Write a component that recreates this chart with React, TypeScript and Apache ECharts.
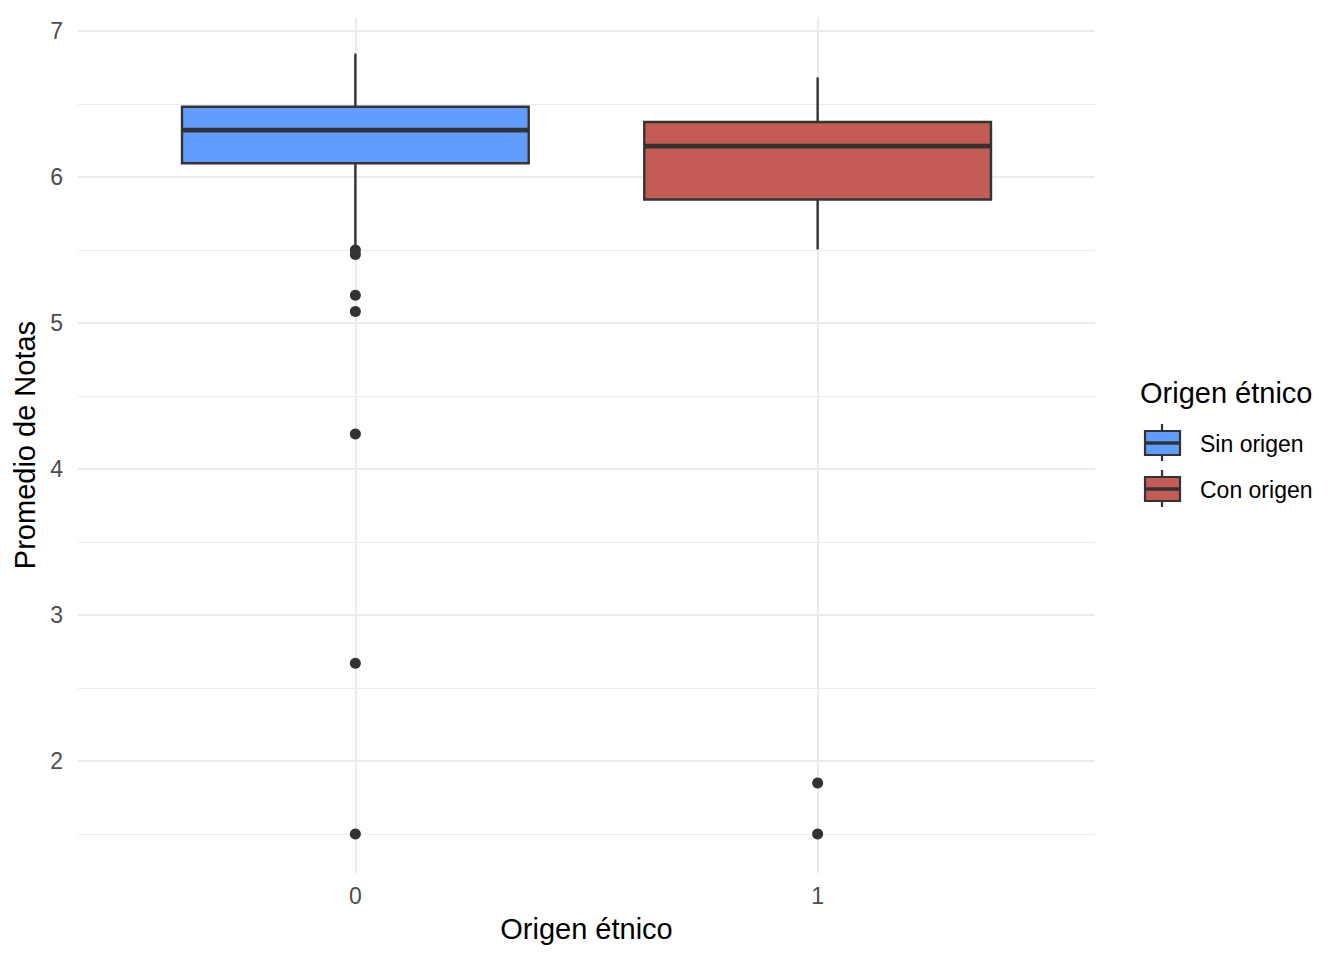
import React, { useEffect, useRef } from "react";
import * as echarts from "echarts";

// Data
const groups = [0, 1];
const groupNames = ["Sin origen", "Con origen"];
const groupColors = ["#619CFF", "#C45B55"];
// [lowerWhisker, Q1, median, Q3, upperWhisker]
const boxStats = [
  [5.51, 6.095, 6.322, 6.482, 6.846],
  [5.505, 5.847, 6.212, 6.377, 6.683],
];
const outliers0 = [5.5, 5.47, 5.19, 5.08, 4.24, 2.67, 1.5];
const outliers1 = [1.85, 1.5];
const yTickLabels = [2, 3, 4, 5, 6, 7];
const yMinorLines = [1.5, 2.5, 3.5, 4.5, 5.5, 6.5];
const xTickLabels = [0, 1];
const yRange = [1.2335, 7.0965];
const xRange = [-0.6, 1.6];

const FONT = "'Liberation Sans', Arial, Helvetica, sans-serif";
const DARK = "#333333";
const GRID = "#EBEBEB";

export default function App() {
  const ref = useRef<HTMLDivElement>(null);
  useEffect(() => {
    if (!ref.current) return;
    const chart = echarts.init(ref.current, undefined, { renderer: "svg" });

    const boxData = groups.map((g, i) => [g, ...boxStats[i], i]);
    const outlierData = [
      ...outliers0.map((v) => [groups[0], v]),
      ...outliers1.map((v) => [groups[1], v]),
    ];

    const legendChildren: any[] = [
      {
        type: "text",
        left: 1140,
        top: 392 - 14,
        style: { text: "Origen étnico", font: `29px ${FONT}`, fill: "#000" },
      },
    ];
    groupNames.forEach((name, i) => {
      const cy = 443 + i * 46;
      legendChildren.push(
        {
          type: "line",
          shape: { x1: 1162, y1: cy - 19, x2: 1162, y2: cy + 18 },
          style: { stroke: DARK, lineWidth: 2.2 },
          z: 10,
        },
        {
          type: "rect",
          shape: { x: 1145, y: cy - 12, width: 35, height: 24 },
          style: { fill: groupColors[i], stroke: DARK, lineWidth: 2.2 },
          z: 11,
        },
        {
          type: "line",
          shape: { x1: 1145, y1: cy, x2: 1180, y2: cy },
          style: { stroke: DARK, lineWidth: 3.5 },
          z: 12,
        },
        {
          type: "text",
          left: 1200,
          top: cy - 11,
          style: { text: name, font: `23px ${FONT}`, fill: "#000" },
          z: 12,
        }
      );
    });

    const option: any = {
      animation: false,
      backgroundColor: "#fff",
      textStyle: { fontFamily: FONT },
      grid: { left: 78, right: 249, top: 17, bottom: 87, containLabel: false },
      xAxis: {
        type: "value",
        min: xRange[0],
        max: xRange[1],
        axisLine: { show: false },
        axisTick: { show: false },
        splitLine: { show: false },
        axisLabel: {
          customValues: xTickLabels,
          color: "#4D4D4D",
          fontSize: 23,
          margin: 11,
          fontFamily: FONT,
        },
        name: "Origen étnico",
        nameLocation: "middle",
        nameGap: 41,
        nameTextStyle: { color: "#000", fontSize: 29, fontFamily: FONT },
      },
      yAxis: {
        type: "value",
        min: yRange[0],
        max: yRange[1],
        axisLine: { show: false },
        axisTick: { show: false },
        splitLine: { show: false },
        axisLabel: {
          customValues: yTickLabels,
          color: "#4D4D4D",
          fontSize: 23,
          margin: 15,
          fontFamily: FONT,
        },
        name: "Promedio de Notas",
        nameLocation: "middle",
        nameRotate: 90,
        nameGap: 38,
        nameTextStyle: { color: "#000", fontSize: 29, fontFamily: FONT },
      },
      graphic: legendChildren,
      series: [
        {
          type: "line",
          data: [],
          z: 0,
          zlevel: 0,
          silent: true,
          markLine: {
            silent: true,
            z: 0,
            symbol: "none",
            label: { show: false },
            data: [
              ...yTickLabels.map((v) => ({ yAxis: v, lineStyle: { color: GRID, width: 2, type: "solid" } })),
              ...yMinorLines.map((v) => ({ yAxis: v, lineStyle: { color: GRID, width: 1, type: "solid" } })),
              ...xTickLabels.map((v) => ({ xAxis: v, lineStyle: { color: GRID, width: 2, type: "solid" } })),
            ],
          },
        },
        {
          type: "scatter",
          data: outlierData,
          symbol: "circle",
          symbolSize: 11,
          itemStyle: { color: DARK, opacity: 1 },
          z: 3,
        },
        {
          type: "custom",
          data: boxData,
          z: 4,
          encode: { x: 0, y: [1, 2, 3, 4, 5] },
          renderItem: (params: any, api: any) => {
            const x = api.value(0);
            const lo = api.value(1);
            const q1 = api.value(2);
            const med = api.value(3);
            const q3 = api.value(4);
            const hi = api.value(5);
            const idx = api.value(6);
            const half = 0.375;
            const tl = api.coord([x - half, q3]);
            const br = api.coord([x + half, q1]);
            const mL = api.coord([x - half, med]);
            const mR = api.coord([x + half, med]);
            const pHi = api.coord([x, hi]);
            const pLo = api.coord([x, lo]);
            const pQ3 = api.coord([x, q3]);
            const pQ1 = api.coord([x, q1]);
            return {
              type: "group",
              children: [
                {
                  type: "line",
                  shape: { x1: pHi[0], y1: pHi[1], x2: pQ3[0], y2: pQ3[1] },
                  style: { stroke: DARK, lineWidth: 2.4 },
                },
                {
                  type: "line",
                  shape: { x1: pLo[0], y1: pLo[1], x2: pQ1[0], y2: pQ1[1] },
                  style: { stroke: DARK, lineWidth: 2.4 },
                },
                {
                  type: "rect",
                  shape: { x: tl[0], y: tl[1], width: br[0] - tl[0], height: br[1] - tl[1] },
                  style: { fill: groupColors[idx], stroke: DARK, lineWidth: 2.4 },
                },
                {
                  type: "line",
                  shape: { x1: mL[0], y1: mL[1], x2: mR[0], y2: mR[1] },
                  style: { stroke: DARK, lineWidth: 4.8 },
                },
              ],
            };
          },
        },
      ],
    };
    chart.setOption(option);
    return () => chart.dispose();
  }, []);
  return (
    <div
      ref={ref}
      style={{ position: "absolute", left: 0, top: 0, width: 1344, height: 960 }}
    />
  );
}
